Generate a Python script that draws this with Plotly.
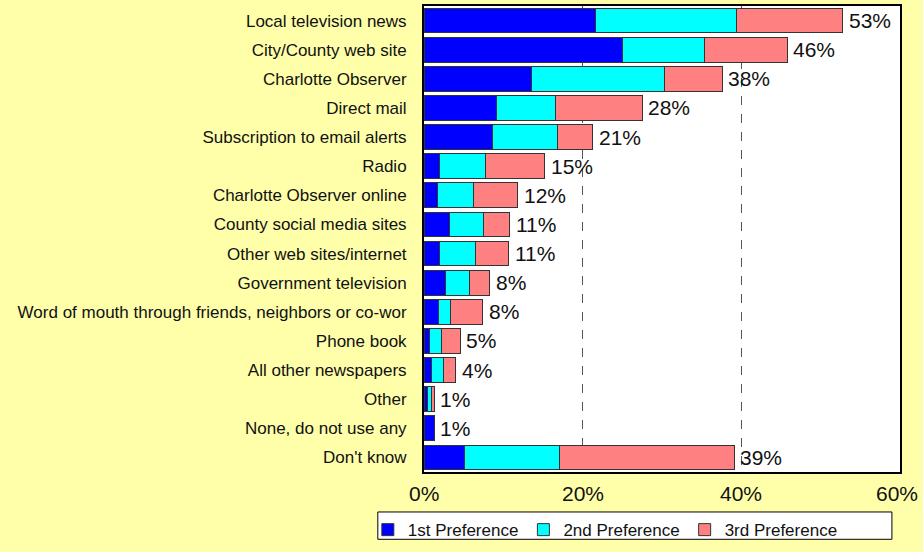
import plotly.graph_objects as go

categories = [
    "Local television news", "City/County web site", "Charlotte Observer",
    "Direct mail", "Subscription to email alerts", "Radio",
    "Charlotte Observer online", "County social media sites",
    "Other web sites/internet", "Government television",
    "Word of mouth through friends, neighbors or co-wor", "Phone book",
    "All other newspapers", "Other", "None, do not use any", "Don't know",
]
first_pref = [21.6, 25.0, 13.6, 9.2, 8.6, 1.9, 1.7, 3.2, 2.0, 2.7, 1.8, 0.7, 0.9, 0.4, 1.3, 5.1]
second_pref = [17.8, 10.3, 16.7, 7.4, 8.2, 5.8, 4.5, 4.3, 4.5, 3.0, 1.6, 1.5, 1.5, 0.6, 0.0, 12.0]
third_pref = [13.4, 10.5, 7.3, 10.9, 4.5, 7.5, 5.6, 3.3, 4.2, 2.6, 4.0, 2.4, 1.6, 0.3, 0.0, 22.0]
total_labels = ["53%", "46%", "38%", "28%", "21%", "15%", "12%", "11%", "11%",
                "8%", "8%", "5%", "4%", "1%", "1%", "39%"]
series_names = ["1st Preference", "2nd Preference", "3rd Preference"]
series_colors = ["#0000FF", "#00FFFF", "#FF8080"]
tick_values = [0, 20, 40, 60]
tick_labels = ["0%", "20%", "40%", "60%"]

FONT = "Arial, Liberation Sans, sans-serif"

fig = go.Figure()
for name, vals, col in zip(series_names, [first_pref, second_pref, third_pref], series_colors):
    fig.add_trace(go.Bar(
        y=categories, x=vals, name=name, orientation="h",
        marker=dict(color=col, line=dict(color="#333333", width=1)),
        hoverinfo="x+y+name",
    ))

totals = [a + b + c for a, b, c in zip(first_pref, second_pref, third_pref)]
for cat, tot, lab in zip(categories, totals, total_labels):
    fig.add_annotation(
        x=tot, y=cat, text=lab, showarrow=False,
        xanchor="left", yanchor="middle", xshift=4,
        font=dict(family=FONT, size=21, color="#111111"),
    )

# x tick labels as text (the last one is pulled inside the page like the original)
for i, (tv, tl) in enumerate(zip(tick_values, tick_labels)):
    last = i == len(tick_values) - 1
    fig.add_annotation(
        x=tv, xref="x", y=0, yref="paper", text=tl, showarrow=False,
        xanchor="right" if last else "center", yanchor="top",
        xshift=20 if last else 0, yshift=-8,
        font=dict(family=FONT, size=21, color="#111111"),
    )

# legend frame (white box with a thin black border, wider than the entries)
fig.add_shape(
    type="rect", xref="paper", yref="paper",
    x0=-0.097, x1=0.983, y0=-0.0858, y1=-0.1444,
    fillcolor="#FFFFFF", line=dict(color="#000000", width=1), layer="below",
)

fig.update_layout(
    barmode="stack", bargap=0.15,
    width=923, height=552,
    margin=dict(l=424, r=23, t=4, b=70),
    paper_bgcolor="#FFFFAA", plot_bgcolor="#FFFFFF",
    font=dict(family=FONT, size=17, color="#111111"),
    legend=dict(
        orientation="h", x=-0.118, y=-0.086, xanchor="left", yanchor="top",
        bgcolor="rgba(0,0,0,0)", borderwidth=0,
        font=dict(family=FONT, size=17, color="#111111"),
        traceorder="normal", itemwidth=30,
        tracegroupgap=0,
    ),
    showlegend=True,
)
fig.update_xaxes(
    range=[0, 60], tickvals=tick_values, showticklabels=False,
    showgrid=True, gridcolor="#555555", griddash="dash", gridwidth=1,
    showline=True, linecolor="#000000", linewidth=2, mirror=True,
    ticks="", zeroline=False, fixedrange=True,
)
fig.update_yaxes(
    categoryorder="array", categoryarray=categories, autorange="reversed",
    showline=True, linecolor="#000000", linewidth=2, mirror=True,
    ticks="", tickfont=dict(family=FONT, size=17, color="#111111"),
    ticklabelstandoff=12,
    showgrid=False, fixedrange=True,
)

fig.write_html(
    "out.html",
    config={"displayModeBar": False},
    post_script="document.body.style.margin='0';document.body.style.overflow='hidden';",
)
